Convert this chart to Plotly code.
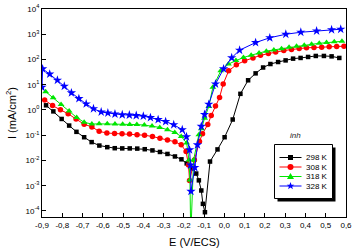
import plotly.graph_objects as go

# ---------------- data ----------------
E_298 = [-0.880, -0.844, -0.803, -0.766, -0.730, -0.692, -0.655, -0.617, -0.578, -0.541,
         -0.504, -0.467, -0.430, -0.393, -0.355, -0.318, -0.281, -0.244, -0.212, -0.186,
         -0.156, -0.139, -0.126, -0.114, -0.106, -0.096, -0.071, -0.034, 0.001, 0.041,
         0.079, 0.117, 0.154, 0.191, 0.227, 0.265, 0.302, 0.339, 0.376, 0.413,
         0.451, 0.491, 0.529, 0.567]
I_298 = [1.53, 0.879, 0.44, 0.241, 0.136, 0.0832, 0.0533, 0.0389, 0.0336, 0.0306,
         0.0301, 0.0300, 0.0295, 0.0279, 0.025, 0.0217, 0.0181, 0.0144, 0.0111, 0.00766,
         0.00482, 0.00303, 0.00163, 0.000646, 0.000191, 0.0000891, 0.00904, 0.0274, 0.0832, 0.419,
         4.36, 15.0, 28.2, 48.2, 66.1, 79.4, 92.0, 108, 115, 126,
         138, 138, 133, 115]

E_308 = [-0.887, -0.848, -0.809, -0.771, -0.732, -0.692, -0.654, -0.618, -0.580, -0.542,
         -0.505, -0.468, -0.431, -0.394, -0.355, -0.318, -0.281, -0.244, -0.213, -0.189,
         -0.177, -0.172, -0.148, -0.123, -0.108, -0.082, -0.065, -0.044, -0.024, -0.006,
         0.021, 0.059, 0.100, 0.141, 0.178, 0.217, 0.253, 0.293, 0.331, 0.369,
         0.405, 0.442, 0.480, 0.517, 0.554, 0.590]
I_308 = [2.50, 1.49, 1.01, 0.71, 0.436, 0.272, 0.213, 0.142, 0.122, 0.118,
         0.115, 0.112, 0.105, 0.100, 0.0887, 0.0759, 0.0641, 0.055, 0.0417, 0.0224,
         0.0066, 0.00162, 0.0105, 0.0562, 0.115, 0.263, 0.603, 1.44, 3.12, 10.7,
         35.5, 61.7, 89.1, 115, 146, 171, 200, 225, 248, 272,
         290, 298, 306, 316, 327, 336]

E_318 = [-0.882, -0.845, -0.806, -0.766, -0.729, -0.692, -0.654, -0.618, -0.578, -0.540,
         -0.502, -0.467, -0.432, -0.395, -0.357, -0.319, -0.281, -0.245, -0.213, -0.186,
         -0.175, -0.170, -0.166, -0.152, -0.126, -0.113, -0.098, -0.077, -0.057, -0.018,
         0.020, 0.057, 0.094, 0.132, 0.171, 0.207, 0.244, 0.282, 0.319, 0.356,
         0.394, 0.430, 0.468, 0.504, 0.542, 0.580]
I_318 = [5.33, 3.06, 1.63, 0.904, 0.505, 0.324, 0.277, 0.282, 0.282, 0.277,
         0.272, 0.264, 0.264, 0.252, 0.234, 0.204, 0.166, 0.129, 0.0895, 0.0486,
         0.0105, 0.0017, 0.00001, 0.0105, 0.105, 0.182, 0.468, 1.38, 7.87, 35.5,
         66.1, 91.2, 120, 148, 182, 214, 240, 269, 302, 331,
         363, 398, 437, 468, 501, 525]

E_328 = [-0.900, -0.897, -0.862, -0.824, -0.790, -0.755, -0.718, -0.682, -0.646, -0.608,
         -0.575, -0.540, -0.504, -0.469, -0.435, -0.400, -0.365, -0.327, -0.290, -0.250,
         -0.208, -0.187, -0.172, -0.167, -0.165, -0.146, -0.133, -0.114, -0.098, -0.077,
         -0.044, -0.004, 0.036, 0.075, 0.154, 0.224, 0.303, 0.377, 0.455, 0.529, 0.574]
I_328 = [7.94, 42.7, 26.3, 15.1, 8.71, 4.79, 2.82, 1.74, 1.12, 0.832,
         0.759, 0.692, 0.646, 0.631, 0.603, 0.569, 0.501, 0.417, 0.347, 0.26,
         0.166, 0.087, 0.0263, 0.0066, 0.0006, 0.00525, 0.0417, 0.225, 0.665, 1.68,
         10.7, 42.7, 117, 234, 468, 724, 1000, 1200, 1350, 1510, 1580]

SERIES_NAMES = ["298 K", "308 K", "318 K", "328 K"]
X_TICKS = [-0.9, -0.8, -0.7, -0.6, -0.5, -0.4, -0.3, -0.2, -0.1, 0.0, 0.1, 0.2, 0.3, 0.4, 0.5, 0.6]
X_TICK_LABELS = ["-0,9", "-0,8", "-0,7", "-0,6", "-0,5", "-0,4", "-0,3", "-0,2", "-0,1",
                 "0,0", "0,1", "0,2", "0,3", "0,4", "0,5", "0,6"]
Y_TICKS = [1e-4, 1e-3, 1e-2, 1e-1, 1e0, 1e1, 1e2, 1e3, 1e4]
Y_TICK_LABELS = ["10<sup>-4</sup>", "10<sup>-3</sup>", "10<sup>-2</sup>", "10<sup>-1</sup>",
                 "10<sup>0</sup>", "10<sup>1</sup>", "10<sup>2</sup>", "10<sup>3</sup>", "10<sup>4</sup>"]
X_TITLE = "E (V/ECS)"
Y_TITLE = "I (mA/cm<sup>2</sup>)"

# ---------------- layout helpers ----------------
W, H = 356, 250
L, R, T, B = 42, 10, 9, 33
PW, PH = W - L - R, H - T - B


def pxx(x):
    return (x - L) / PW


def pxy(y):
    return (T + PH - y) / PH


FONT = "Liberation Sans, Arial, sans-serif"
styles = [
    ("#000000", "square", 4.5),
    ("#ff0000", "circle", 5.5),
    ("#00e600", "triangle-up", 6),
    ("#0000ff", "star", 7),
]
data = [(E_298, I_298), (E_308, I_308), (E_318, I_318), (E_328, I_328)]

fig = go.Figure()
for name, (E, I), (color, sym, size) in zip(SERIES_NAMES, data, styles):
    fig.add_trace(go.Scatter(
        x=E, y=I, name=name, mode="lines+markers", showlegend=False,
        line=dict(color=color, width=1),
        marker=dict(symbol=sym, size=size, color=color, line=dict(width=0)),
    ))

fig.update_layout(
    width=W, height=H,
    margin=dict(l=L, r=R, t=T, b=B, pad=0),
    paper_bgcolor="white", plot_bgcolor="white",
    font=dict(family=FONT, color="#000000", size=8),
    showlegend=False, hovermode=False,
)
fig.update_xaxes(
    range=[-0.9, 0.6], tickvals=X_TICKS, ticktext=X_TICK_LABELS,
    ticks="inside", ticklen=4, tickwidth=1, tickcolor="black",
    showline=True, linecolor="black", linewidth=1, mirror=True,
    showgrid=False, zeroline=False, automargin=False, ticklabeloverflow="allow",
    tickfont=dict(size=8),
)
fig.update_yaxes(
    type="log", range=[-4.24, 4.0], tickvals=Y_TICKS, ticktext=Y_TICK_LABELS,
    ticks="inside", ticklen=4, tickwidth=1, tickcolor="black",
    showline=True, linecolor="black", linewidth=1, mirror=True,
    showgrid=False, zeroline=False, automargin=False, ticklabeloverflow="allow",
    tickfont=dict(size=8),
)

# axis titles
fig.add_annotation(x=pxx(194), y=pxy(242), xref="paper", yref="paper", text=X_TITLE,
                   showarrow=False, xanchor="center", yanchor="middle",
                   font=dict(size=11, color="black"))
fig.add_annotation(x=pxx(11), y=pxy(113), xref="paper", yref="paper", text=Y_TITLE,
                   showarrow=False, xanchor="center", yanchor="middle", textangle=-90,
                   font=dict(size=11, color="black"))

# ---------------- legend (drawn manually) ----------------
bx0, bx1, by0, by1 = 274.5, 332.5, 144.5, 198.5
sh = 3
fig.add_shape(type="rect", xref="paper", yref="paper",
              x0=pxx(bx0 + sh), x1=pxx(bx1 + sh), y0=pxy(by0 + sh), y1=pxy(by1 + sh),
              fillcolor="black", line=dict(width=0), layer="above")
fig.add_shape(type="rect", xref="paper", yref="paper",
              x0=pxx(bx0), x1=pxx(bx1), y0=pxy(by0), y1=pxy(by1),
              fillcolor="white", line=dict(color="black", width=1), layer="above")
rows = [157.5, 167.0, 176.5, 186.0]
for name, (color, sym, size), ry in zip(SERIES_NAMES, styles, rows):
    fig.add_shape(type="line", xref="paper", yref="paper",
                  x0=pxx(279.5), x1=pxx(301.5), y0=pxy(ry), y1=pxy(ry),
                  line=dict(color=color, width=1), layer="above")
    ax, ay = pxx(290.5), pxy(ry)
    if sym == "square":
        fig.add_shape(type="rect", xref="paper", yref="paper", xsizemode="pixel", ysizemode="pixel",
                      xanchor=ax, yanchor=ay, x0=-2.5, x1=2.5, y0=-2.5, y1=2.5,
                      fillcolor=color, line=dict(width=0), layer="above")
    elif sym == "circle":
        fig.add_shape(type="circle", xref="paper", yref="paper", xsizemode="pixel", ysizemode="pixel",
                      xanchor=ax, yanchor=ay, x0=-3, x1=3, y0=-3, y1=3,
                      fillcolor=color, line=dict(width=0), layer="above")
    elif sym == "triangle-up":
        fig.add_shape(type="path", xref="paper", yref="paper", xsizemode="pixel", ysizemode="pixel",
                      xanchor=ax, yanchor=ay, path="M -3.5 -2.5 L 3.5 -2.5 L 0 3.5 Z",
                      fillcolor=color, line=dict(width=0), layer="above")
    else:
        fig.add_shape(type="path", xref="paper", yref="paper", xsizemode="pixel", ysizemode="pixel",
                      xanchor=ax, yanchor=ay,
                      path="M 0 4 L 1 1.3 L 3.8 1.2 L 1.6 -0.5 L 2.4 -3.2 L 0 -1.6 L -2.4 -3.2 "
                           "L -1.6 -0.5 L -3.8 1.2 L -1 1.3 Z",
                      fillcolor=color, line=dict(width=0), layer="above")
    fig.add_annotation(x=pxx(304), y=pxy(ry), xref="paper", yref="paper",
                       text=name, showarrow=False, xanchor="left", yanchor="middle",
                       font=dict(size=8, color="black"))

fig.add_annotation(x=pxx(295), y=pxy(135), xref="paper", yref="paper",
                   text="<i>inh</i>", showarrow=False, xanchor="center", yanchor="middle",
                   font=dict(size=8, color="#222222"))

fig.write_html("out.html",
               config={"displayModeBar": False, "staticPlot": True},
               post_script="document.body.style.margin='0';document.body.style.overflow='hidden';")
